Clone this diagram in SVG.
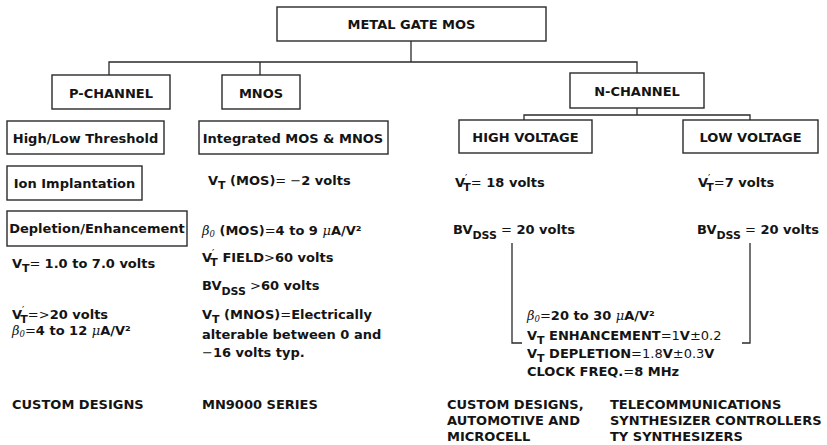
<svg xmlns="http://www.w3.org/2000/svg" width="827" height="445" viewBox="0 0 827 445">
<style>
text{font-family:"DejaVu Sans","Liberation Sans",sans-serif;font-weight:bold;font-size:13px;fill:#141414}
.c{text-anchor:middle}
.box{fill:#fff;stroke:#2a2a2a;stroke-width:1.4}
.ln{fill:none;stroke:#2a2a2a;stroke-width:1.3}
.sub{font-size:11px}
.pr{font-size:10px;font-weight:normal}
.gr{font-family:"DejaVu Serif","Liberation Serif",serif;font-style:italic;font-weight:normal}
.z{font-size:8.5px}
.n{font-weight:normal}
</style>
<rect width="827" height="445" fill="#fff"/>
<g id="connectors">
<path class="ln" d="M411 41V62M109 75V62H637V73M260 62V75"/>
<path class="ln" d="M637 108V115M524 120V115H750V120"/>
<path class="ln" d="M512 243V343H522M750 243V343H742"/>
</g>
<g id="metal-gate-mos"><rect class="box" x="277" y="7" width="269" height="34"/><text class="c" x="411.5" y="29">METAL GATE MOS</text></g>
<g id="p-channel"><rect class="box" x="52" y="75" width="118" height="34"/><text class="c" x="111" y="98">P-CHANNEL</text></g>
<g id="mnos"><rect class="box" x="222" y="75" width="78" height="34"/><text class="c" x="261" y="98">MNOS</text></g>
<g id="n-channel"><rect class="box" x="570" y="73" width="134" height="35"/><text class="c" x="637" y="96">N-CHANNEL</text></g>
<g id="high-voltage"><rect class="box" x="459" y="120" width="133" height="33"/><text class="c" x="525.5" y="142">HIGH VOLTAGE</text></g>
<g id="low-voltage"><rect class="box" x="683" y="120" width="135" height="33"/><text class="c" x="750.5" y="142">LOW VOLTAGE</text></g>
<g id="high-low-threshold"><rect class="box" x="7" y="121" width="157" height="33"/><text class="c" x="85.5" y="143">High/Low Threshold</text></g>
<g id="integrated-mos-mnos"><rect class="box" x="199" y="121" width="189" height="33"/><text class="c" x="293" y="143">Integrated MOS &amp; MNOS</text></g>
<g id="ion-implantation"><rect class="box" x="7" y="166" width="135" height="34"/><text class="c" x="74.5" y="188">Ion Implantation</text></g>
<g id="depletion-enhancement"><rect class="box" x="7" y="211" width="180" height="35"/><text class="c" x="97" y="233">Depletion/Enhancement</text></g>
<g id="p-channel-specs">
<text x="12" y="268">V<tspan class="sub" dy="4">T</tspan><tspan dy="-4" class="n">= </tspan><tspan>1.0 to 7.0 volts</tspan></text>
<text x="12" y="319">V<tspan class="pr" dy="-5">′</tspan><tspan class="sub" dx="-4" dy="9">T</tspan><tspan dy="-4" class="n">=&gt;</tspan>20 volts</text>
<text x="12" y="335"><tspan class="gr">β</tspan><tspan class="gr z" dy="2">0</tspan><tspan class="n" dy="-2">=</tspan>4 to 12 <tspan class="gr">μ</tspan>A/V²</text>
<text x="12" y="409">CUSTOM DESIGNS</text>
</g>
<g id="mnos-specs">
<text x="208" y="185">V<tspan class="sub" dy="4">T</tspan><tspan dy="-4"> (MOS)</tspan><tspan class="n">= −</tspan>2 volts</text>
<text x="202" y="235"><tspan class="gr">β</tspan><tspan class="gr z" dy="2">0</tspan><tspan dy="-2"> (MOS)</tspan><tspan class="n">=</tspan>4 to 9 <tspan class="gr">μ</tspan>A/V²</text>
<text x="202" y="262">V<tspan class="pr" dy="-5">′</tspan><tspan class="sub" dx="-4" dy="9">T</tspan><tspan dy="-4">  FIELD</tspan><tspan class="n">&gt;</tspan>60 volts</text>
<text x="202" y="290">BV<tspan class="sub" dy="5">DSS</tspan><tspan dy="-5" class="n"> &gt;</tspan>60 volts</text>
<text x="202" y="319">V<tspan class="sub" dy="4">T</tspan><tspan dy="-4"> (MNOS)</tspan><tspan class="n">=</tspan>Electrically</text>
<text x="202" y="339">alterable between 0 and</text>
<text x="202" y="357"><tspan class="n">−</tspan>16 volts typ.</text>
<text x="202" y="409">MN9000 SERIES</text>
</g>
<g id="high-voltage-specs">
<text x="455" y="187">V<tspan class="pr" dy="-5">′</tspan><tspan class="sub" dx="-4" dy="9">T</tspan><tspan dy="-4" class="n">=</tspan> 18 volts</text>
<text x="453" y="234">BV<tspan class="sub" dy="5">DSS</tspan><tspan dy="-5" class="n"> =</tspan> 20 volts</text>
</g>
<g id="low-voltage-specs">
<text x="698" y="187">V<tspan class="pr" dy="-5">′</tspan><tspan class="sub" dx="-4" dy="9">T</tspan><tspan dy="-4" class="n">=</tspan>7 volts</text>
<text x="697" y="234">BV<tspan class="sub" dy="5">DSS</tspan><tspan dy="-5" class="n"> =</tspan> 20 volts</text>
</g>
<g id="n-channel-specs">
<text x="527" y="320"><tspan class="gr">β</tspan><tspan class="gr z" dy="2">0</tspan><tspan class="n" dy="-2">=</tspan>20 to 30 <tspan class="gr">μ</tspan>A/V²</text>
<text x="527" y="340">V<tspan class="sub" dy="4">T</tspan><tspan dy="-4"> ENHANCEMENT</tspan><tspan class="n">=1</tspan>V<tspan class="n">±0.2</tspan></text>
<text x="527" y="358">V<tspan class="sub" dy="4">T</tspan><tspan dy="-4"> DEPLETION</tspan><tspan class="n">=1.8</tspan>V<tspan class="n">±0.3</tspan>V</text>
<text x="527" y="376">CLOCK FREQ.<tspan class="n">=</tspan>8 MHz</text>
</g>
<g id="applications">
<text x="447" y="409">CUSTOM DESIGNS,</text>
<text x="447" y="425">AUTOMOTIVE AND</text>
<text x="447" y="441">MICROCELL</text>
<text x="610" y="409">TELECOMMUNICATIONS</text>
<text x="610" y="425">SYNTHESIZER CONTROLLERS</text>
<text x="610" y="441">TY SYNTHESIZERS</text>
</g>
</svg>
